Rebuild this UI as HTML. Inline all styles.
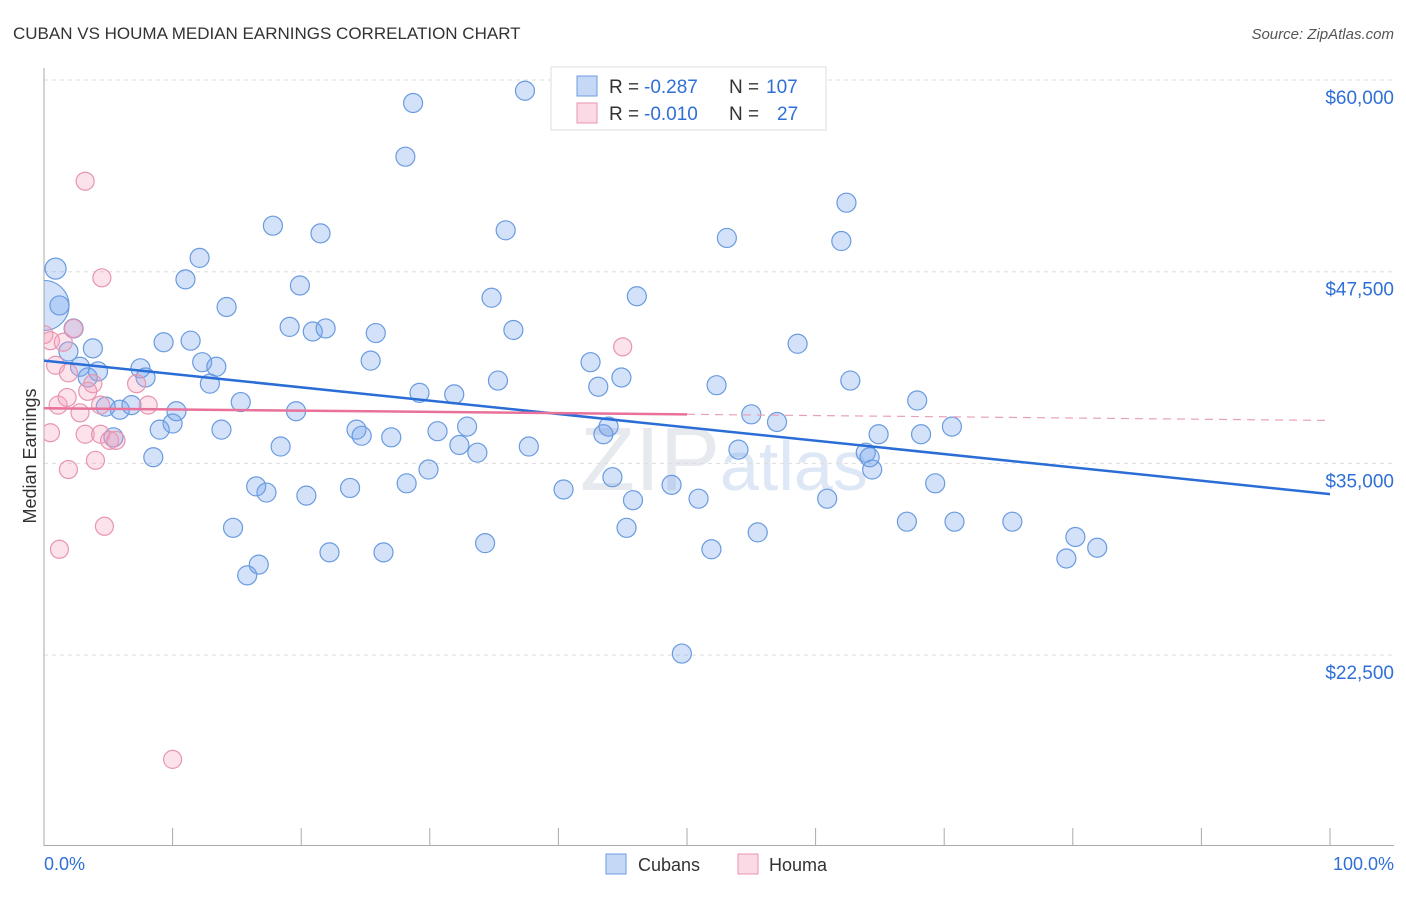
<!DOCTYPE html>
<html><head><meta charset="utf-8"><style>
body{margin:0;background:#fff;font-family:"Liberation Sans",sans-serif}
svg text{font-family:"Liberation Sans",sans-serif}
</style></head><body>
<svg id="c" width="1406" height="892" xmlns="http://www.w3.org/2000/svg">
<defs><clipPath id="plotclip"><rect x="44" y="40" width="1362" height="806"/></clipPath></defs>
<text x="13" y="39" font-size="17" fill="#333">CUBAN VS HOUMA MEDIAN EARNINGS CORRELATION CHART</text>
<text x="1394" y="39" font-size="15" fill="#555" font-style="italic" text-anchor="end">Source: ZipAtlas.com</text>
<text x="720" y="490" font-size="90" fill="#e6e9ee" text-anchor="end" font-family="Liberation Serif">ZIP</text>
<text x="720" y="490" font-size="70" fill="#dde7f5">atlas</text>
<g id="grid"></g>
<g id="axes"></g>
<g id="pts" clip-path="url(#plotclip)"></g>
<g id="lines"></g>
<text x="36" y="456" font-size="18" fill="#333" text-anchor="middle" transform="rotate(-90 36 456)">Median Earnings</text>
<g>
<rect x="551" y="67" width="275" height="63" fill="#fff" stroke="#ddd"/>
<rect x="577" y="76" width="20" height="20" fill="rgba(110,160,235,0.4)" stroke="#6a9be0"/>
<rect x="577" y="103" width="20" height="20" fill="rgba(245,160,190,0.4)" stroke="#e895b0"/>
<text x="609" y="93" font-size="19" fill="#333">R =</text>
<text x="644" y="93" font-size="19" fill="#2f6fd6">-0.287</text>
<text x="729" y="93" font-size="19" fill="#333">N =</text>
<text x="766" y="93" font-size="19" fill="#2f6fd6">107</text>
<text x="609" y="120" font-size="19" fill="#333">R =</text>
<text x="644" y="120" font-size="19" fill="#2f6fd6">-0.010</text>
<text x="729" y="120" font-size="19" fill="#333">N =</text>
<text x="777" y="120" font-size="19" fill="#2f6fd6">27</text>
</g>
<g>
<rect x="606" y="854" width="20" height="20" fill="rgba(110,160,235,0.4)" stroke="#6a9be0"/>
<text x="638" y="871" font-size="18" fill="#333">Cubans</text>
<rect x="738" y="854" width="20" height="20" fill="rgba(245,160,190,0.4)" stroke="#e895b0"/>
<text x="769" y="871" font-size="18" fill="#333">Houma</text>
</g>
<text x="44" y="870" font-size="18" fill="#2f6fd6">0.0%</text>
<text x="1394" y="870" font-size="18" fill="#2f6fd6" text-anchor="end">100.0%</text>
</svg>
<script>
const yTicks=[60000,47500,35000,22500];
const yTickLabels=["$60,000","$47,500","$35,000","$22,500"];
const xTicks=[0,10,20,30,40,50,60,70,80,90,100];
const cubanX=[0.9,0,1.2,2.3,1.9,3.8,2.8,4.2,3.4,4.8,5.9,6.8,5.4,7.5,7.9,9.3,8.5,9.0,10.0,10.3,11.0,12.1,11.4,12.3,12.9,13.4,14.2,15.3,13.8,14.7,15.8,16.7,16.5,17.3,17.8,18.4,19.9,20.4,19.1,19.6,20.9,21.5,21.9,22.2,23.8,24.3,24.7,25.4,25.8,27.0,26.4,28.2,28.1,28.7,29.2,29.9,30.6,31.9,32.3,32.9,33.7,34.3,34.8,35.3,35.9,36.5,37.4,37.7,40.4,42.5,43.1,43.5,43.9,44.2,44.9,45.3,45.8,46.1,48.8,49.6,50.9,51.9,52.3,53.1,54.0,55.0,55.5,57.0,58.6,60.9,62.0,62.4,62.7,63.9,64.4,64.9,67.1,67.9,68.2,69.3,70.6,70.8,75.3,79.5,80.2,81.9,64.2];
const cubanY=[47.7,45.3,45.3,43.8,42.3,42.5,41.3,41.0,40.6,38.7,38.5,38.8,36.7,41.2,40.6,42.9,35.4,37.2,37.6,38.4,47.0,48.4,43.0,41.6,40.2,41.3,45.2,39.0,37.2,30.8,27.7,28.4,33.5,33.1,50.5,36.1,46.6,32.9,43.9,38.4,43.6,50.0,43.8,29.2,33.4,37.2,36.8,41.7,43.5,36.7,29.2,33.7,55.0,58.5,39.6,34.6,37.1,39.5,36.2,37.4,35.7,29.8,45.8,40.4,50.2,43.7,59.3,36.1,33.3,41.6,40.0,36.9,37.4,34.1,40.6,30.8,32.6,45.9,33.6,22.6,32.7,29.4,40.1,49.7,35.9,38.2,30.5,37.7,42.8,32.7,49.5,52.0,40.4,35.7,34.6,36.9,31.2,39.1,36.9,33.7,37.4,31.2,31.2,28.8,30.2,29.5,35.4];
const houmaX=[0.0,0.5,1.5,0.9,2.3,1.9,3.2,4.5,1.1,1.8,2.8,3.8,3.4,4.4,3.2,0.5,4.4,4.0,1.9,5.1,5.6,7.2,8.1,4.7,1.2,10.0,45.0];
const houmaY=[43.4,43.0,42.9,41.4,43.8,40.9,53.4,47.1,38.8,39.3,38.3,40.2,39.7,38.8,36.9,37.0,36.9,35.2,34.6,36.5,36.5,40.2,38.8,30.9,29.4,15.7,42.6];
const cubanTrend=[41700,33000];
const houmaTrend=[38600,37800];
const NS="http://www.w3.org/2000/svg";
const X0=44,X1=1330,Y60=80,PX=191.7/12500;
const sx=p=>X0+(X1-X0)*p/100;
const sy=v=>Y60+(60000-v)*PX;
function mk(tag,attrs,parent){const e=document.createElementNS(NS,tag);for(const k in attrs)e.setAttribute(k,attrs[k]);parent.appendChild(e);return e;}
const grid=document.getElementById('grid'),axes=document.getElementById('axes'),pts=document.getElementById('pts'),lines=document.getElementById('lines');
yTicks.forEach((v,i)=>{
 const l=mk('line',{x1:44,x2:1394,y1:sy(v),y2:sy(v),stroke:'#ddd','stroke-dasharray':'4 4'},grid);
 
 
 const t=mk('text',{x:1394,y:sy(v)+24,'font-size':19,fill:'#2f6fd6','text-anchor':'end'},grid);
 t.textContent=yTickLabels[i];
 
 
});
const ya=mk('line',{x1:44,x2:44,y1:68,y2:846,stroke:'#aaa'},axes);


const xa=mk('line',{x1:44,x2:1394,y1:845.5,y2:845.5,stroke:'#aaa'},axes);


xTicks.forEach(p=>{
 const t=mk('line',{x1:sx(p),x2:sx(p),y1:828,y2:846,stroke:'#aaa'},axes);
 
 
});
cubanX.forEach((p,i)=>{
 const r=i===1?25:(i===0?10.5:9.5);
 const c=mk('circle',{cx:sx(p),cy:sy(cubanY[i]*1000),r:r,fill:'rgba(110,160,235,0.3)',stroke:'#6a9be0','stroke-width':1.2},pts);
 
 
});
houmaX.forEach((p,i)=>{
 const c=mk('circle',{cx:sx(p),cy:sy(houmaY[i]*1000),r:9,fill:'rgba(245,160,190,0.3)',stroke:'#e895b0','stroke-width':1.2},pts);
 
 
});
const bl=mk('line',{x1:sx(0),y1:sy(cubanTrend[0]),x2:sx(100),y2:sy(cubanTrend[1]),stroke:'#2a6dd6','stroke-width':2.5},lines);


const hm=(houmaTrend[0]+houmaTrend[1])/2;
const pl=mk('line',{x1:sx(0),y1:sy(houmaTrend[0]),x2:sx(50),y2:sy(hm),stroke:'#e8729a','stroke-width':2.5},lines);


const pd=mk('line',{x1:sx(50),y1:sy(hm),x2:sx(100),y2:sy(houmaTrend[1]),stroke:'#e8a0b8','stroke-width':1.2,'stroke-dasharray':'8 6'},lines);


</script>
</body></html>
